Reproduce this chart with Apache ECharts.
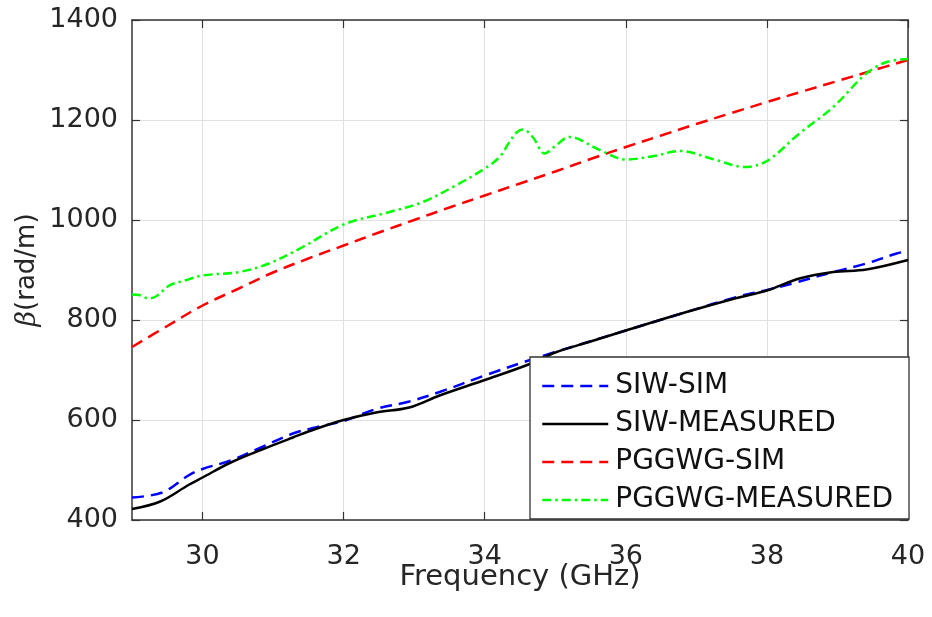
<!DOCTYPE html>
<html>
<head>
<meta charset="utf-8">
<script src="https://cdn.jsdelivr.net/npm/echarts@6/dist/echarts.min.js"></script>
<style>html,body{margin:0;padding:0;background:#fff;}#c{width:932px;height:617px;}</style>
</head>
<body>
<div id="c"></div>
<script>
// ---- data ----
const seriesNames = ['SIW-SIM', 'SIW-MEASURED', 'PGGWG-SIM', 'PGGWG-MEASURED'];

const siwSimFreq = [29.0, 29.43, 29.8, 30.0, 30.4, 30.86, 31.28, 31.6, 32.0, 32.46, 32.93, 33.36, 34.0, 34.62, 35.0, 36.0, 36.86, 37.57, 38.0, 38.36, 38.94, 39.41, 39.84, 40.0];
const siwSimBeta = [445, 455, 489, 502, 519, 547, 573, 585, 598, 622, 637, 656, 689, 719, 736, 779, 816, 846, 860, 873, 896, 913, 933, 938];

const siwMeasFreq = [29.0, 29.4, 29.8, 30.0, 30.4, 30.86, 31.28, 31.6, 32.0, 32.46, 32.93, 33.36, 34.0, 34.62, 35.0, 35.5, 36.0, 36.86, 37.57, 38.0, 38.46, 38.94, 39.41, 40.0];
const siwMeasBeta = [422, 437, 470, 485, 515, 542, 565, 582, 600, 615, 625, 649, 680, 711, 735, 757, 779, 816, 844, 859, 883, 896, 901, 920];

const pgSimFreq = [29.0, 29.5, 30.0, 30.5, 31.0, 31.5, 32.0, 32.5, 33.0, 33.5, 34.0, 34.5, 35.0, 35.5, 36.0, 36.5, 37.0, 37.5, 38.0, 38.5, 39.0, 39.5, 40.0];
const pgSimBeta = [746, 788, 829, 862, 895, 923, 949, 975, 1000, 1025, 1049, 1073, 1097, 1122, 1146, 1169, 1192, 1214, 1236, 1257, 1278, 1299, 1320];

const pgMeasFreq = [29.0, 29.1, 29.24, 29.35, 29.53, 29.75, 30.0, 30.52, 30.94, 31.42, 32.0, 32.65, 33.12, 33.6, 34.0, 34.21, 34.35, 34.45, 34.54, 34.68, 34.85, 35.0, 35.2, 35.63, 36.0, 36.4, 36.76, 37.28, 37.68, 38.0, 38.46, 38.94, 39.41, 39.7, 40.0];
const pgMeasBeta = [851, 850, 843, 848, 869, 879, 889, 896, 913, 946, 991, 1016, 1036, 1070, 1103, 1126, 1156, 1175, 1181, 1166, 1133, 1148, 1166, 1140, 1121, 1128, 1138, 1120, 1106, 1118, 1173, 1226, 1293, 1316, 1322];

const xMin = 29, xMax = 40;
const xTicks = [30, 32, 34, 36, 38, 40];
const yMin = 400, yMax = 1400, yStep = 200;

function pairs(f, b) { return f.map((v, i) => [v, b[i]]); }

const txt = '#262626';
const axc = '#333';
const font = 'DejaVu Sans';

const chart = echarts.init(document.getElementById('c'), null, { renderer: 'canvas' });

function mkLine(name, f, b, color, dash) {
  return {
    name: name, type: 'line', xAxisIndex: 0, yAxisIndex: 0,
    data: pairs(f, b), symbol: 'none', smooth: 0.35,
    lineStyle: { color: color, width: 2.5, type: dash },
    itemStyle: { color: color },
    z: 3, silent: true
  };
}

const tickStyle = { show: true, inside: true, length: 8, lineStyle: { color: axc, width: 1.2 } };
const lineStyleAx = { show: true, lineStyle: { color: axc, width: 1.5 } };

chart.setOption({
  animation: false,
  backgroundColor: '#fff',
  grid: { left: 132, right: 24, top: 20, bottom: 97, show: false },
  xAxis: [{
    type: 'value', min: xMin, max: xMax,
    position: 'bottom',
    name: 'Frequency (GHz)', nameLocation: 'middle', nameGap: 43, nameMoveOverlap: false,
    nameTextStyle: { color: txt, fontFamily: font, fontSize: 29 },
    axisLine: lineStyleAx,
    axisTick: Object.assign({ customValues: xTicks }, tickStyle),
    axisLabel: { color: txt, fontFamily: font, fontSize: 27, margin: 23, customValues: xTicks,
      formatter: v => String(v) },
    splitLine: { show: true, lineStyle: { color: '#e0e0e0', width: 1 } }
  }, {
    type: 'value', min: xMin, max: xMax, position: 'top',
    axisLine: lineStyleAx,
    axisTick: Object.assign({ customValues: xTicks }, tickStyle),
    axisLabel: { show: false, customValues: xTicks }, splitLine: { show: false }
  }],
  yAxis: [{
    type: 'value', min: yMin, max: yMax, interval: yStep,
    position: 'left',
    name: '{b|β}(rad/m)', nameLocation: 'middle', nameGap: 91, nameRotate: 90, nameMoveOverlap: false,
    nameTextStyle: { color: txt, fontFamily: font, fontSize: 26,
      rich: { b: { fontFamily: 'DejaVu Serif', fontStyle: 'italic', fontSize: 27, color: txt } } },
    axisLine: lineStyleAx,
    axisTick: tickStyle,
    axisLabel: { color: txt, fontFamily: font, fontSize: 27, margin: 14, formatter: v => String(v) },
    splitLine: { show: true, lineStyle: { color: '#e0e0e0', width: 1 } }
  }, {
    type: 'value', min: yMin, max: yMax, interval: yStep, position: 'right',
    axisLine: lineStyleAx,
    axisTick: tickStyle,
    axisLabel: { show: false }, splitLine: { show: false }
  }],
  graphic: [{
    type: 'rect', z: 50, silent: true,
    shape: { x: 530, y: 357, width: 379, height: 162 },
    style: { fill: '#fff', stroke: axc, lineWidth: 1.3 }
  }],
  legend: {
    z: 60, orient: 'vertical', left: 541, top: 372, padding: 0,
    itemWidth: 66, itemHeight: 20, itemGap: 10,
    data: seriesNames,
    itemStyle: { color: 'rgba(0,0,0,0)', borderWidth: 0, opacity: 0 },
    lineStyle: { width: 2.5 },
    textStyle: { color: '#111', fontFamily: font, fontSize: 28, padding: [0, 0, 0, 2] },
    selectedMode: false
  },
  series: [
    mkLine(seriesNames[0], siwSimFreq, siwSimBeta, '#0000ff', [12, 7]),
    mkLine(seriesNames[1], siwMeasFreq, siwMeasBeta, '#000000', 'solid'),
    mkLine(seriesNames[2], pgSimFreq, pgSimBeta, '#ff0000', [12, 7]),
    mkLine(seriesNames[3], pgMeasFreq, pgMeasBeta, '#00ff00', [9, 4, 2.5, 4])
  ]
});
</script>
</body>
</html>
